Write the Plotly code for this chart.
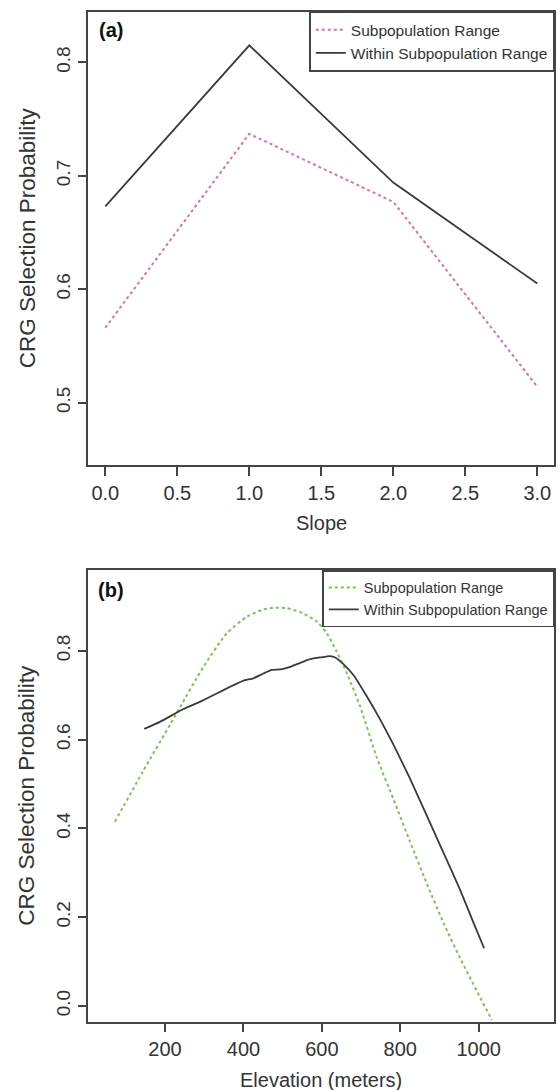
import plotly.graph_objects as go

# ---------------- data ----------------
# Panel (a): Slope
slope = [0, 1, 2, 3]
slope_subpop = [0.566, 0.737, 0.677, 0.514]
slope_within = [0.673, 0.815, 0.694, 0.605]
slope_ticks = [0.0, 0.5, 1.0, 1.5, 2.0, 2.5, 3.0]
slope_yticks = [0.5, 0.6, 0.7, 0.8]

# Panel (b): Elevation
elev_subpop_x = [72, 144, 213, 238, 298, 357, 409, 451, 476, 511, 553, 587, 613,
                 638, 664, 698, 740, 783, 825, 868, 911, 953, 1034]
elev_subpop_y = [0.415, 0.529, 0.634, 0.673, 0.764, 0.839, 0.877, 0.893, 0.897,
                 0.896, 0.884, 0.866, 0.839, 0.798, 0.749, 0.674, 0.560, 0.465,
                 0.370, 0.275, 0.186, 0.107, -0.032]
elev_within_x = [147, 187, 247, 289, 332, 366, 400, 425, 451, 472, 494, 519, 545,
                 570, 596, 621, 634, 655, 681, 715, 749, 783, 825, 868, 911, 953,
                 987, 1014]
elev_within_y = [0.624, 0.640, 0.669, 0.685, 0.704, 0.719, 0.733, 0.738, 0.749,
                 0.757, 0.758, 0.764, 0.773, 0.781, 0.785, 0.788, 0.785, 0.770,
                 0.745, 0.697, 0.645, 0.588, 0.512, 0.428, 0.344, 0.261, 0.187,
                 0.130]
elev_ticks = [200, 400, 600, 800, 1000]
elev_yticks = [0.0, 0.2, 0.4, 0.6, 0.8]

legend_labels = ["Subpopulation Range", "Within Subpopulation Range"]

# ---------------- layout helpers ----------------
W, H = 559, 1090
FONT = "Liberation Sans, Arial, sans-serif"
AXC = "#444444"
TXT = "#333333"
PINK = "#DE70B0"
GREEN = "#74C84C"
DARK = "#3a3a3a"


def px_x(p):
    return p / W


def px_y(p):
    return 1 - p / H


fig = go.Figure()

fig.add_trace(go.Scatter(x=slope, y=slope_subpop, mode="lines", name=legend_labels[0],
                         line=dict(color=PINK, width=2, dash="dot"),
                         xaxis="x", yaxis="y", legend="legend"))
fig.add_trace(go.Scatter(x=slope, y=slope_within, mode="lines", name=legend_labels[1],
                         line=dict(color=DARK, width=1.8),
                         xaxis="x", yaxis="y", legend="legend"))
fig.add_trace(go.Scatter(x=elev_subpop_x, y=elev_subpop_y, mode="lines", name=legend_labels[0],
                         line=dict(color=GREEN, width=2, dash="dot", shape="spline", smoothing=0.6),
                         xaxis="x2", yaxis="y2", legend="legend2"))
fig.add_trace(go.Scatter(x=elev_within_x, y=elev_within_y, mode="lines", name=legend_labels[1],
                         line=dict(color=DARK, width=1.8, shape="spline", smoothing=0.4),
                         xaxis="x2", yaxis="y2", legend="legend2"))

axis_common = dict(showline=True, mirror=True, linecolor=AXC, linewidth=1.5,
                   ticks="outside", ticklen=9, tickwidth=1.5, tickcolor=AXC,
                   showgrid=False, zeroline=False)
xfont = dict(family=FONT, size=20, color=TXT)
yfont = dict(family=FONT, size=19, color=TXT)

xd = [px_x(88.3), px_x(554.3)]

fig.update_layout(
    width=W, height=H,
    margin=dict(l=0, r=0, t=0, b=0),
    paper_bgcolor="white", plot_bgcolor="white",
    font=dict(family=FONT, color=TXT),
    xaxis=dict(domain=xd, range=[-0.118, 3.118], tickvals=slope_ticks,
               ticktext=[f"{v:.1f}" for v in slope_ticks], anchor="y",
               tickfont=xfont, **axis_common),
    yaxis=dict(domain=[px_y(465), px_y(11.7)], range=[0.445, 0.8447], tickvals=slope_yticks,
               ticktext=[f"{v:.1f}" for v in slope_yticks], tickangle=-90, anchor="x",
               tickfont=yfont, **axis_common),
    xaxis2=dict(domain=xd, range=[4.2, 1193], tickvals=elev_ticks,
                ticktext=[str(v) for v in elev_ticks], anchor="y2",
                tickfont=xfont, **axis_common),
    yaxis2=dict(domain=[px_y(1021.7), px_y(570)], range=[-0.0354, 0.982], tickvals=elev_yticks,
                ticktext=[f"{v:.1f}" for v in elev_yticks], tickangle=-90, anchor="x2",
                tickfont=yfont, **axis_common),
    legend=dict(x=px_x(554.3), xanchor="right", y=px_y(11.7), yanchor="top",
                bgcolor="white", bordercolor=AXC, borderwidth=1.5,
                font=dict(family=FONT, size=15.5, color=TXT), tracegroupgap=0,
                itemwidth=30),
    legend2=dict(x=px_x(554.3), xanchor="right", y=px_y(570), yanchor="top",
                 bgcolor="white", bordercolor=AXC, borderwidth=1.5,
                 font=dict(family=FONT, size=14.5, color=TXT), tracegroupgap=0,
                 itemwidth=30),
    showlegend=True,
)

ann = []
# panel labels
ann.append(dict(text="<b>(a)</b>", x=px_x(97), y=px_y(30), xref="paper", yref="paper",
                xanchor="left", yanchor="middle", showarrow=False,
                font=dict(family=FONT, size=20, color="#111")))
ann.append(dict(text="<b>(b)</b>", x=px_x(96), y=px_y(590), xref="paper", yref="paper",
                xanchor="left", yanchor="middle", showarrow=False,
                font=dict(family=FONT, size=20, color="#111")))
# axis titles
ann.append(dict(text="Slope", x=(xd[0] + xd[1]) / 2, y=px_y(523), xref="paper", yref="paper",
                xanchor="center", yanchor="middle", showarrow=False,
                font=dict(family=FONT, size=20, color=TXT)))
ann.append(dict(text="Elevation (meters)", x=(xd[0] + xd[1]) / 2, y=px_y(1080), xref="paper",
                yref="paper", xanchor="center", yanchor="middle", showarrow=False,
                font=dict(family=FONT, size=20, color=TXT)))
ann.append(dict(text="CRG Selection Probability", x=px_x(27), y=px_y((11.7 + 465) / 2),
                xref="paper", yref="paper", xanchor="center", yanchor="middle",
                textangle=-90, showarrow=False, font=dict(family=FONT, size=22.5, color=TXT)))
ann.append(dict(text="CRG Selection Probability", x=px_x(27), y=px_y((570 + 1021.7) / 2),
                xref="paper", yref="paper", xanchor="center", yanchor="middle",
                textangle=-90, showarrow=False, font=dict(family=FONT, size=22.5, color=TXT)))
fig.update_layout(annotations=ann)

fig.write_html("out.html")
